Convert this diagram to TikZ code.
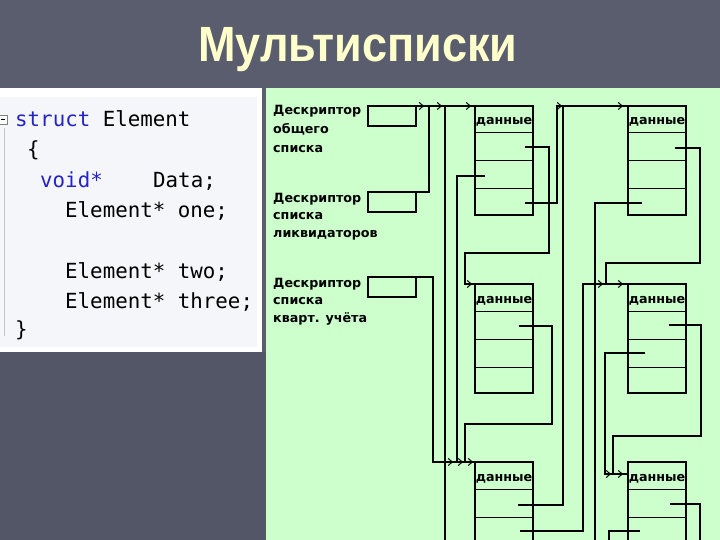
\documentclass[tikz,border=0pt]{standalone}
\usepackage{fontspec}
\setmainfont{DejaVu Sans}
\newfontfamily\codefont{DejaVu Sans Mono}
\newfontfamily\titlefont{Liberation Sans}
\usetikzlibrary{arrows.meta,calc}
\definecolor{slate}{HTML}{5A5D6E}
\definecolor{slatedark}{HTML}{535667}
\definecolor{panel}{HTML}{CCFFCC}
\definecolor{codebg}{HTML}{F5F6FA}
\definecolor{kw}{HTML}{2323C8}
\definecolor{titlecol}{HTML}{FFFFCC}
\definecolor{gutter}{HTML}{C4C4CA}
\begin{document}
\begin{tikzpicture}[x=1pt,y=-1pt,
  databox/.style={draw=black, line width=1.4pt, minimum width=58pt, minimum height=109pt, anchor=north west, inner sep=0pt, outer sep=0pt},
  descbox/.style={draw=black, line width=1.2pt, minimum width=48pt, minimum height=20pt, anchor=north west, inner sep=0pt, outer sep=0pt},
  rowline/.style={line width=1pt},
  wire/.style={line width=1.1pt},
  tipwire/.style={wire, -{Straight Barb[length=4pt,width=7pt,line width=1pt]}},
  desclabel/.style={anchor=base west, align=left, inner sep=0pt, font=\bfseries\fontsize{12.7}{17.5}\selectfont},
  datalabel/.style={anchor=base, inner sep=0pt, font=\bfseries\fontsize{12.7}{15}\selectfont},
  code/.style={anchor=base west, inner sep=0pt, font=\codefont\fontsize{20.8}{24}\selectfont},
]
\useasboundingbox (0,0) rectangle (720,540);
\clip (0,0) rectangle (720,540);
% backgrounds
\fill[slate] (0,0) rectangle (720,540);
\fill[slatedark] (0,352) rectangle (266,540);
\fill[white] (0,88) rectangle (262,352);
\fill[codebg] (0,97) rectangle (257,347);
\fill[panel] (266,88) rectangle (720,540);

% title
\node[anchor=base, inner sep=0pt, text=titlecol, font=\titlefont\bfseries\fontsize{45}{50}\selectfont] (title) at (358,62) {\scalebox{1}[1.1]{Мультисписки}};

% code
\draw[gutter, line width=1pt] (4,128) -- (4,336);
\draw[gray, fill=white, line width=0.6pt] (-1,115) rectangle (7,124);
\draw[black, line width=0.6pt] (1,119.5) -- (5,119.5);
\node[code] (c1) at (15,127) {\textcolor{kw}{struct} Element};
\node[code] (c2) at (27,157) {\{};
\node[code] (c3) at (40,188) {\textcolor{kw}{void*}};
\node[code] (c3b) at (153,188) {Data;};
\node[code] (c4) at (65,218) {Element* one;};
\node[code] (c5) at (65,278) {Element* two;};
\node[code] (c6) at (65,308) {Element* three;};
\node[code] (c7) at (15,336) {\}};

% descriptor labels (base anchor = last line)
\node[desclabel, font=\bfseries\fontsize{12.7}{19}\selectfont] (l1) at (273,153) {Дескриптор\\общего\\списка};
\node[desclabel] (l2) at (273,237) {Дескриптор\\списка\\ликвидаторов};
\node[desclabel] (l3) at (273,322) {Дескриптор\\списка\\кварт. учёта};

% descriptor boxes
\node[descbox] (d1) at (368,106) {};
\node[descbox] (d2) at (368,192) {};
\node[descbox] (d3) at (368,277) {};

% data boxes
\foreach \n/\x/\y in {A/475/106, B/475/284, C/475/462, D/628/106, E/628/284, F/628/462} {
  \node[databox] (\n) at (\x,\y) {};
  \foreach \d in {27,55,83} \draw[rowline] ($(\n.north west)+(0,\d)$) -- ($(\n.north east)+(0,\d)$);
  \node[datalabel] at ($(\n.north)+(0,19)$) {данные};
}

% pointer start points
\coordinate (A1) at (525,147);
\coordinate (A2) at (485,176);
\coordinate (A3) at (525,203);
\coordinate (B1) at (519,326);
\coordinate (C1) at (518,505);
\coordinate (C2) at (520,531);
\coordinate (D1) at (675,148);
\coordinate (D3) at (642,203);
\coordinate (E1) at (669,325);
\coordinate (E2) at (645,353);
\coordinate (F1) at (670,504);
\coordinate (F2) at (640,531);
\coordinate (Fin) at (605,474);

% into A
\draw[wire] (d1.north east) -- (A.north west);
\draw[tipwire] (d1.north east) -- (424,106);
\draw[tipwire] (d2.north east) -| (429,106) -- (442,106);
\draw[tipwire] (445,545) -- (445,106) -- (471,106);

% into B
\draw[tipwire] (A1) -- (549,147) -- (549,253) -| (465,284) -- (472,284);
\draw[wire] (465,284) -- (B.north west);

% into C
\draw[tipwire] (d3.north east) -- (433,277) -- (433,462) -- (453,462);
\draw[tipwire] (A2) -- (457,176) -- (457,462) -- (463,462);
\draw[tipwire] (B1) -- (552,326) -- (552,424) -| (465,462) -- (473,462);
\draw[wire] (433,462) -- (C.north west);

% into D
\draw[tipwire] (A3) -- (557,203) -- (557,106) -- (562,106);
\draw[tipwire] (C1) -- (563,505) -- (563,106) -- (623,106);
\draw[wire] (557,106) -- (D.north west);

% into E
\draw[tipwire] (C2) -- (583,531) -- (583,284) -- (603,284);
\draw[tipwire] (D1) -- (700,148) -- (700,263) -| (606,284) -- (623,284);
\draw[wire] (583,284) -- (E.north west);

% into F
\draw[tipwire] (E2) -- (605,353) -- (605,474) -- (611,474);
\draw[tipwire] (E1) -- (701,325) -- (701,436) -| (613,474) -- (623,474);
\draw[wire] (Fin) -- (F.north west |- Fin);

% leaving the picture
\draw[wire] (D3) -- (595,203) -- (595,545);
\draw[wire] (F1) -- (700,504) -- (700,545);
\draw[wire] (F2) -- (609,531) -- (609,545);
\end{tikzpicture}
\end{document}
